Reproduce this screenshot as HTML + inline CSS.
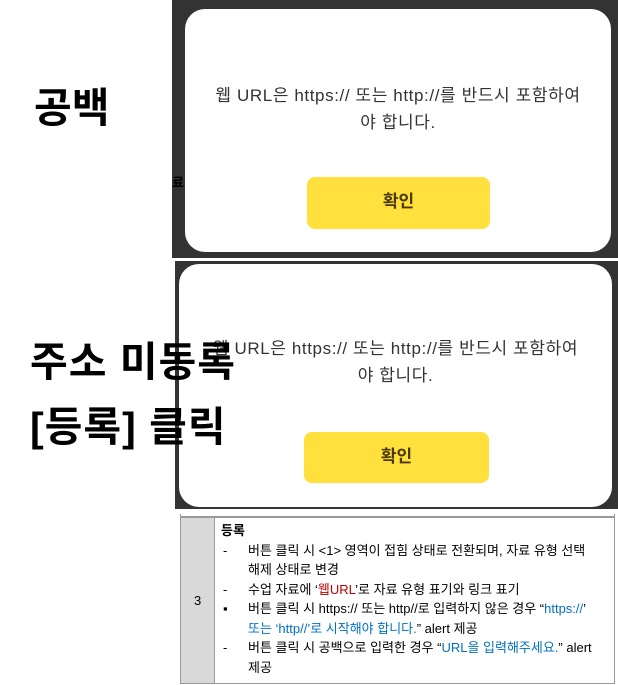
<!DOCTYPE html>
<html><head><meta charset="utf-8"><style>
body{margin:0;width:618px;height:685px;background:#fff;position:relative;overflow:hidden;font-family:"Liberation Sans","Noto Sans CJK KR",sans-serif}
.a{position:absolute}
.dark{background:#333}
.card{background:#fff;border-radius:20px}
.msg{font-size:17px;letter-spacing:0.6px;color:#333;text-align:center;line-height:27px;white-space:nowrap}
.btn{background:#FFE03D;border-radius:8px;color:#4a3800;font-weight:bold;font-size:17px;text-align:center}
.big{font-weight:bold;font-size:41px;color:#000;white-space:nowrap}
.t{font-size:13px;color:#000;white-space:nowrap;line-height:19.5px}
.b{color:#0070c0}
</style></head><body>
<div class="a dark" style="left:172px;top:0;width:446px;height:258px"></div>
<div class="a" style="left:172px;top:172px;font-size:13px;color:#000;font-weight:bold">료</div>
<div class="a card" style="left:185px;top:9px;width:426px;height:243px"></div>
<div class="a msg" style="left:185px;top:82px;width:426px">웹 URL은 https:// 또는 http://를 반드시 포함하여<br>야 합니다.</div>
<div class="a btn" style="left:307px;top:177px;width:183px;height:52px;line-height:50px">확인</div>

<div class="a dark" style="left:175px;top:261px;width:443px;height:248px"></div>
<div class="a card" style="left:179px;top:264px;width:433px;height:243px"></div>
<div class="a msg" style="left:179px;top:335px;width:433px">웹 URL은 https:// 또는 http://를 반드시 포함하여<br>야 합니다.</div>
<div class="a btn" style="left:304px;top:432px;width:185px;height:51px;line-height:49px">확인</div>

<div class="a big" style="left:34px;top:74px">공백</div>
<div class="a big" style="left:30px;top:328px;letter-spacing:1px">주소 미동록</div>
<div class="a big" style="left:30px;top:393px;letter-spacing:1px">[등록] 클릭</div>

<div class="a" style="left:180px;top:514px;width:435px;height:170px;border:1px solid #999;border-top:none;box-sizing:border-box"></div>
<div class="a" style="left:180px;top:516px;width:435px;height:2px;background:#999"></div>
<div class="a" style="left:181px;top:518px;width:33px;height:165px;background:#d9d9d9;border-right:1px solid #999"></div>
<div class="a t" style="left:194px;top:591px">3</div>
<div class="a t" style="left:221px;top:521px">
<b>등록</b><br>
<span style="display:inline-block;width:25px;padding-left:2px">-</span>버튼 클릭 시 &lt;1&gt; 영역이 접힘 상태로 전환되며, 자료 유형 선택<br>
<span style="display:inline-block;width:27px"></span>해제 상태로 변경<br>
<span style="display:inline-block;width:25px;padding-left:2px">-</span>수업 자료에 ‘<span style="color:#c00000">웹URL</span>’로 자료 유형 표기와 링크 표기<br>
<span style="display:inline-block;width:25px;padding-left:2px">▪</span>버튼 클릭 시 https:// 또는 http//로 입력하지 않은 경우 “<span class="b">https://</span>’<br>
<span style="display:inline-block;width:27px"></span><span class="b">또는 ‘http//’로 시작해야 합니다.</span>” alert 제공<br>
<span style="display:inline-block;width:25px;padding-left:2px">-</span>버튼 클릭 시 공백으로 입력한 경우 “<span class="b">URL을 입력해주세요.</span>” alert<br>
<span style="display:inline-block;width:27px"></span>제공
</div>
</body></html>
